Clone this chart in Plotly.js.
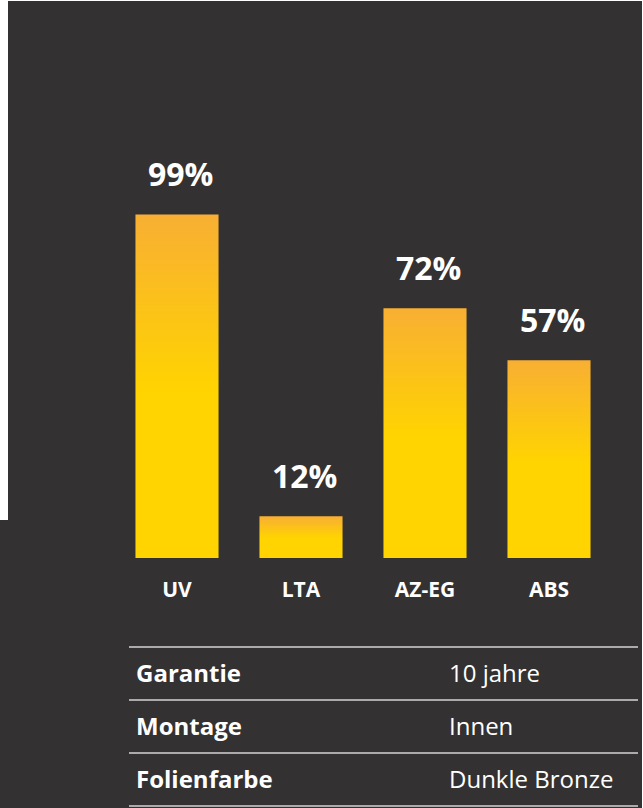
<!DOCTYPE html>
<html>
<head>
<meta charset="utf-8">
<script src="https://cdn.plot.ly/plotly-3.0.1.min.js"></script>
<style>
  html, body { margin: 0; padding: 0; background: #ffffff; }
  #wrap { position: relative; width: 643px; height: 808px; overflow: hidden; }
  #chart { position: absolute; left: 0; top: 0; width: 643px; height: 808px; }
  .edge { position: absolute; background: #ffffff; z-index: 5; }
</style>
</head>
<body>
<div id="wrap">
  <div id="chart"></div>
  <div class="edge" style="left:0;top:0;width:643px;height:1px;"></div>
  <div class="edge" style="right:0;top:0;width:1px;height:808px;"></div>
  <div class="edge" style="left:0;top:0;width:8px;height:520px;"></div>
</div>
<script>
// ---- data ----
const categories = ['UV', 'LTA', 'AZ-EG', 'ABS'];
const values = [99, 12, 72, 57];
const tableLabels = ['Garantie', 'Montage', 'Folienfarbe'];
const tableValues = ['10 jahre', 'Innen', 'Dunkle Bronze'];

// ---- styling ----
const BG = '#333132';
const FONT = 'Open Sans, Noto Sans, sans-serif';
const W = 643, H = 808;
const M = { l: 115, r: 32, t: 211, b: 250 };
const plotW = W - M.l - M.r, plotH = H - M.t - M.b;
const px = x => (x - M.l) / plotW;           // pixel -> paper x
const py = y => (H - M.b - y) / plotH;       // pixel -> paper y

const trace = {
  type: 'bar',
  x: categories,
  y: values,
  marker: { color: '#FFD400', line: { width: 0 } },
  hoverinfo: 'none'
};

const annotations = categories.map((c, i) => ({
  x: c, y: values[i], xref: 'x', yref: 'y',
  text: values[i] + '%',
  showarrow: false, yanchor: 'middle', yshift: 41, xshift: 3,
  font: { family: FONT, size: 32, color: '#ffffff', weight: 700 }
}));

const rowTop = 647, rowH = 53;
const shapes = [];
for (let i = 0; i <= tableLabels.length; i++) {
  const y = rowTop + i * rowH;
  shapes.push({
    type: 'line', xref: 'paper', yref: 'paper',
    x0: px(129), x1: px(638), y0: py(y), y1: py(y),
    line: { color: '#d4d4d4', width: 1.5 }
  });
}
tableLabels.forEach((lab, i) => {
  const yc = rowTop + i * rowH + rowH / 2 - 1;
  annotations.push({
    x: px(134), y: py(yc), xref: 'paper', yref: 'paper',
    xanchor: 'left', yanchor: 'middle', showarrow: false,
    text: lab,
    font: { family: FONT, size: 24, color: '#ffffff', weight: 700 }
  });
  annotations.push({
    x: px(447), y: py(yc), xref: 'paper', yref: 'paper',
    xanchor: 'left', yanchor: 'middle', showarrow: false,
    text: tableValues[i],
    font: { family: FONT, size: 24, color: '#ffffff', weight: 400 }
  });
});

const layout = {
  width: W, height: H,
  margin: M,
  paper_bgcolor: BG, plot_bgcolor: BG,
  showlegend: false,
  bargap: 0.33,
  xaxis: {
    showgrid: false, zeroline: false, showline: false, ticks: '',
    tickfont: { family: FONT, size: 21, color: '#ffffff', weight: 700 },
    ticklabelstandoff: 17
  },
  yaxis: {
    range: [0, 100], visible: false, showgrid: false, zeroline: false
  },
  annotations: annotations,
  shapes: shapes
};

Plotly.newPlot('chart', [trace], layout, { staticPlot: true, displayModeBar: false }).then(gd => {
  const svg = gd.querySelector('.main-svg');
  let defs = svg.querySelector('defs');
  if (!defs) { defs = document.createElementNS('http://www.w3.org/2000/svg', 'defs'); svg.insertBefore(defs, svg.firstChild); }
  const ns = 'http://www.w3.org/2000/svg';
  const grad = document.createElementNS(ns, 'linearGradient');
  grad.setAttribute('id', 'barGrad');
  grad.setAttribute('x1', '0'); grad.setAttribute('y1', '0');
  grad.setAttribute('x2', '0'); grad.setAttribute('y2', '1');
  [['0', '#F8AF33'], ['0.52', '#FFD400'], ['1', '#FFD400']].forEach(([o, c]) => {
    const s = document.createElementNS(ns, 'stop');
    s.setAttribute('offset', o); s.setAttribute('stop-color', c);
    grad.appendChild(s);
  });
  defs.appendChild(grad);
  gd.querySelectorAll('.bars .point path').forEach(p => { p.style.fill = 'url(#barGrad)'; });
});
</script>
</body>
</html>
